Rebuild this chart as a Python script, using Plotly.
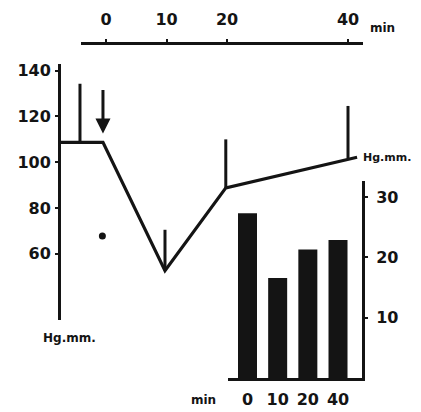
import plotly.graph_objects as go

# ---------------- data ----------------
# blood pressure trace (time in min, pressure in Hg.mm.)
line_t = [-7.6, -0.5, 9.75, 19.8, 41.5]
line_p = [108.7, 108.7, 52.6, 88.8, 102.2]

# vertical marks rising from the trace
mark_t = [-4.3, 9.75, 19.8, 40.0]
mark_bottom = [108.7, 52.6, 88.8, 101.8]
mark_top = [134.3, 70.5, 110.0, 124.6]

# injection arrow
arrow_t = -0.5
arrow_tail = 132.2
arrow_tip = 112.6

# ink dot
dot_t = [-0.6]
dot_p = [67.8]

# top time axis
time_ticks = [0, 10, 20, 40]
time_labels = ["0", "10", "20", "40"]

# left pressure axis
p_ticks = [60, 80, 100, 120, 140]
p_labels = ["60", "80", "100", "120", "140"]

# inset bar chart
bar_cats = ["0", "10", "20", "40"]
bar_vals = [27.3, 16.6, 21.3, 22.9]
bar_ticks = [10, 20, 30]
bar_tick_labels = ["10", "20", "30"]

# ---------------- layout geometry (page pixels) ----------------
W, H = 421, 412
OFF = 8  # page body margin around the plot
T0_PX, PX_PER_MIN = 106, 6.05
P140_PX, PX_PER_P = 69, 2.3
B0_PX, PX_PER_B = 378, 6.07
BC0_PX, BSTEP_PX = 247.5, 30.17


def tx(px):
    return (px - T0_PX) / PX_PER_MIN


def py(px):
    return 140 - (px - P140_PX) / PX_PER_P


def fx(px):
    return (px - OFF) / W


def fy(px):
    return 1 - (px - OFF) / H


INK = "#141414"
FONT = dict(family="DejaVu Sans", size=16, color=INK, weight="bold")
SMALL = dict(family="DejaVu Sans", size=12, color=INK, weight="bold")
SMALLER = dict(family="DejaVu Sans", size=11, color=INK, weight="bold")

fig = go.Figure()

fig.add_trace(go.Scatter(x=line_t, y=line_p, mode="lines",
                         line=dict(color=INK, width=3.2),
                         xaxis="x", yaxis="y", hoverinfo="skip"))

vx, vy = [], []
for t, b, tp in zip(mark_t, mark_bottom, mark_top):
    vx += [t, t, None]
    vy += [b, tp, None]
fig.add_trace(go.Scatter(x=vx, y=vy, mode="lines",
                         line=dict(color=INK, width=3),
                         xaxis="x", yaxis="y", hoverinfo="skip"))

fig.add_trace(go.Scatter(x=dot_t, y=dot_p, mode="markers",
                         marker=dict(color=INK, size=7),
                         xaxis="x", yaxis="y", hoverinfo="skip"))

fig.add_trace(go.Scatter(x=[None], y=[None], xaxis="x2", yaxis="y3",
                         hoverinfo="skip"))

fig.add_trace(go.Bar(x=list(range(len(bar_cats))), y=bar_vals,
                     width=0.63, marker=dict(color=INK, line=dict(width=0)),
                     xaxis="x4", yaxis="y4", hoverinfo="skip"))

axis_common = dict(showgrid=False, zeroline=False, linecolor=INK,
                   tickcolor=INK, tickfont=FONT, fixedrange=True)

fig.update_layout(
    width=W, height=H,
    margin=dict(l=0, r=0, t=0, b=0, pad=0),
    paper_bgcolor="white", plot_bgcolor="rgba(0,0,0,0)",
    showlegend=False,
    xaxis=dict(domain=[0, 1], range=[tx(OFF), tx(OFF + W)], visible=False),
    yaxis=dict(domain=[0, 1], range=[py(OFF + H), py(OFF)], visible=False),
    xaxis2=dict(axis_common, domain=[fx(81), fx(363)],
                range=[tx(81), tx(363)], anchor="free",
                position=fy(41), side="top", showline=True,
                linewidth=3, ticks="outside", ticklen=3, tickwidth=2,
                tickvals=time_ticks, ticktext=time_labels,
                ticklabelstandoff=7),
    yaxis3=dict(axis_common, domain=[fy(320), fy(62)],
                range=[py(320), py(62)], anchor="free",
                position=fx(59), side="left", showline=True,
                linewidth=3, ticks="outside", ticklen=3, tickwidth=2,
                tickvals=p_ticks, ticktext=p_labels,
                ticklabelstandoff=1),
    xaxis4=dict(axis_common, domain=[fx(228), fx(365)],
                range=[(228 - BC0_PX) / BSTEP_PX, (365 - BC0_PX) / BSTEP_PX],
                anchor="y4", showline=True, linewidth=3, ticks="",
                tickvals=list(range(len(bar_cats))), ticktext=bar_cats,
                ticklabelstandoff=5),
    yaxis4=dict(axis_common, domain=[fy(B0_PX), fy(180)],
                range=[0, (B0_PX - 180) / PX_PER_B], anchor="free",
                position=fx(363), side="right", showline=True,
                linewidth=3, ticks="outside", ticklen=3, tickwidth=2,
                tickvals=bar_ticks, ticktext=bar_tick_labels,
                ticklabelstandoff=5),
)

fig.add_annotation(x=arrow_t, y=arrow_tip, ax=arrow_t, ay=arrow_tail,
                   xref="x", yref="y", axref="x", ayref="y", text="",
                   showarrow=True, arrowhead=2, arrowsize=1,
                   arrowwidth=3, arrowcolor=INK)
fig.add_annotation(x=fx(368), y=fy(26), xref="paper", yref="paper",
                   text="min", showarrow=False, xanchor="left",
                   yanchor="middle", font=SMALL)
fig.add_annotation(x=fx(361), y=fy(156), xref="paper", yref="paper",
                   text="Hg.mm.", showarrow=False, xanchor="left",
                   yanchor="middle", font=SMALLER)
fig.add_annotation(x=fx(41), y=fy(338), xref="paper", yref="paper",
                   text="Hg.mm.", showarrow=False, xanchor="left",
                   yanchor="middle", font=SMALL)
fig.add_annotation(x=fx(189), y=fy(400), xref="paper", yref="paper",
                   text="min", showarrow=False, xanchor="left",
                   yanchor="middle", font=SMALL)

fig.write_html("out.html")
